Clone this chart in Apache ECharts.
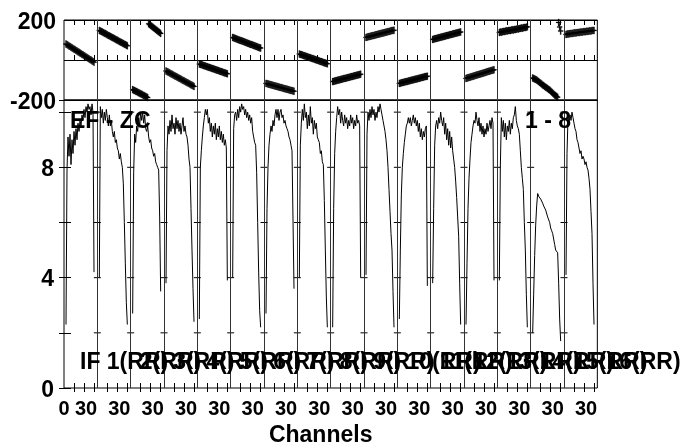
<!DOCTYPE html>
<html><head><meta charset="utf-8">
<script src="https://cdn.jsdelivr.net/npm/echarts@6/dist/echarts.min.js"></script>
<style>html,body{margin:0;padding:0;background:#fff}#c{width:686px;height:442px}</style>
</head><body><div id="c"></div><script>
// ---------------- data ----------------
const ifNumbers = [1,2,3,4,5,6,7,8,9,10,11,12,13,14,15,16];
const channels = [2,3,4,5,6,7,8,9,10,11,12,13,14,15,16,17,18,19,20,21,22,23,24,25,26,27,28,29,30];

const phaseIF1 = [80,77,74,70,68,64,61,58,54,52,48,45,41,39,35,32,28,26,22,19,15,13,9,6,2,0,-4,-7,-11];
const phaseIF2 = [148,145,143,140,137,134,132,129,126,123,121,118,115,112,110,107,104,101,99,96,93,90,88,85,82,79,77,74,71];
const phaseIF3 = [-148,-151,-153,-156,-158,-161,-164,-166,-169,-171,-174,-177,-179,-182,-185,-188,181,177,173,169,165,161,157,153,149,145,141,137,133];
const phaseIF4 = [-55,-58,-60,-63,-66,-69,-71,-74,-77,-80,-82,-85,-88,-91,-93,-96,-99,-102,-104,-107,-110,-113,-115,-118,-121,-124,-126,-129,-132];
const phaseIF5 = [-20,-22,-23,-25,-27,-29,-30,-32,-34,-36,-37,-39,-41,-43,-44,-46,-48,-50,-51,-53,-55,-57,-58,-60,-62,-64,-65,-67,-69];
const phaseIF6 = [113,111,109,107,105,103,101,99,97,96,94,92,90,88,86,84,82,80,78,77,75,73,71,69,67,65,63,61,60];
const phaseIF7 = [-117,-118,-120,-121,-123,-124,-125,-127,-128,-130,-131,-132,-134,-135,-137,-138,-139,-141,-142,-144,-145,-146,-148,-149,-151,-152,-153,-155,-156];
const phaseIF8 = [30,28,27,25,23,21,20,18,16,14,13,11,9,7,6,4,2,0,-1,-3,-5,-7,-8,-10,-12,-14,-15,-17,-19];
const phaseIF9 = [-108,-107,-105,-104,-103,-101,-100,-99,-97,-96,-95,-93,-92,-91,-90,-88,-87,-86,-84,-83,-82,-80,-79,-78,-76,-75,-74,-72,-71];
const phaseIF10 = [113,114,116,117,118,120,121,122,123,125,126,127,129,130,131,133,134,135,136,138,139,140,142,143,144,146,147,148,149];
const phaseIF11 = [-117,-116,-114,-113,-112,-110,-109,-108,-107,-105,-104,-103,-101,-100,-99,-97,-96,-95,-94,-92,-91,-90,-88,-87,-86,-84,-83,-82,-81];
const phaseIF12 = [103,104,106,107,108,110,111,112,114,115,116,118,119,120,122,123,124,126,127,128,130,131,132,134,135,136,138,139,140];
const phaseIF13 = [-92,-90,-89,-87,-86,-84,-83,-81,-80,-78,-76,-75,-73,-72,-70,-69,-67,-66,-64,-63,-61,-59,-58,-56,-55,-53,-52,-50,-49];
const phaseIF14 = [138,140,139,141,143,142,144,146,145,147,148,147,150,151,150,153,152,154,156,155,157,158,160,159,161,163,162,164,166];
const phaseIF15 = [-90,-92,-95,-97,-100,-104,-108,-112,-116,-120,-125,-128,-132,-136,-139,-143,-147,-150,-155,-160,-165,-170,-175,-178,-182,-186,188,165,145];
const phaseIF16 = [128,129,131,130,132,133,132,134,135,136,135,137,138,137,139,140,139,141,142,141,143,144,143,145,146,145,147,148,148];

const ampIF1 = [2.3,7.9,9.1,8.4,9.2,8.1,9.0,8.5,9.3,8.8,9.4,9.0,9.6,9.3,9.7,9.5,9.9,9.7,10.1,9.8,10.2,10.0,10.3,10.1,10.2,9.9,10.3,10.0,4.2];
const ampIF2 = [4.0,10.2,9.8,10.1,9.6,10.0,9.7,10.1,9.8,9.5,9.9,9.5,9.7,9.3,9.1,9.3,8.9,9.0,8.7,8.6,8.3,8.5,8.2,8.0,7.4,6.0,4.5,3.1,2.3];
const ampIF3 = [2.7,7.8,9.2,8.9,9.5,9.3,9.8,9.5,10.0,9.7,10.0,9.6,9.9,9.4,9.3,9.5,9.1,8.9,9.0,8.7,8.6,8.4,8.5,8.2,8.1,8.0,7.9,6.2,3.5];
const ampIF4 = [3.8,8.6,9.5,9.2,9.7,9.3,9.9,9.4,9.6,9.2,9.8,9.4,9.7,9.3,9.6,9.2,9.5,9.8,9.3,9.5,9.2,9.1,8.8,8.3,8.0,6.5,5.0,3.6,2.4];
const ampIF5 = [2.5,8.0,8.6,9.1,9.5,9.8,10.1,9.9,10.1,9.6,9.8,9.3,9.6,9.1,9.5,9.2,9.6,9.0,9.4,9.1,9.5,9.0,9.3,8.9,9.2,8.8,9.0,8.7,3.9];
const ampIF6 = [4.0,9.4,9.9,10.0,9.7,10.1,9.8,10.2,10.0,10.3,10.1,10.2,9.9,10.1,9.8,10.0,9.7,9.9,9.6,9.8,9.3,9.1,8.9,8.8,7.8,6.0,4.2,2.8,2.2];
const ampIF7 = [2.7,6.5,8.0,8.8,9.2,9.5,9.3,9.7,9.5,9.9,10.1,9.8,10.1,9.7,10.0,10.1,9.8,9.9,9.6,9.7,9.5,9.4,9.3,9.1,9.0,8.8,8.6,8.6,3.6];
const ampIF8 = [4.0,8.8,9.6,10.1,9.7,10.3,9.8,10.0,9.4,9.9,9.5,10.2,9.6,9.8,9.2,9.7,9.4,9.6,9.1,9.0,8.9,8.5,8.6,8.2,8.1,6.8,5.0,3.3,2.2];
const ampIF9 = [2.2,6.5,8.5,9.3,9.8,10.2,9.9,10.1,9.6,10.0,9.7,9.5,9.9,9.6,9.8,9.4,9.7,9.5,9.9,9.6,9.8,9.4,9.7,9.5,9.9,9.6,9.7,9.5,4.0];
const ampIF10 = [4.1,9.2,10.0,9.7,10.1,9.8,10.2,9.9,10.1,9.7,10.0,9.8,10.2,10.0,10.3,10.1,9.9,9.7,9.5,9.3,9.0,8.6,8.0,7.2,6.4,5.6,5.0,3.5,2.2];
const ampIF11 = [2.5,5.0,7.0,8.0,8.5,8.9,9.2,9.5,9.6,9.8,9.6,9.8,9.5,9.7,9.9,9.6,9.8,9.5,9.7,9.3,9.6,9.1,9.4,9.0,9.3,9.1,9.4,9.5,3.7];
const ampIF12 = [3.8,6.5,8.8,9.5,9.7,9.4,9.8,9.6,10.0,9.7,9.5,9.8,9.2,9.6,9.0,9.4,8.8,9.3,8.7,9.1,8.6,8.3,8.0,7.5,6.9,6.2,5.5,3.8,2.3];
const ampIF13 = [2.3,4.5,6.5,7.6,8.3,8.9,9.2,9.5,9.7,9.6,10.0,9.7,9.5,9.8,9.3,9.6,9.2,9.5,9.1,9.4,9.2,9.6,9.3,9.5,9.7,9.4,9.8,9.6,3.9];
const ampIF14 = [3.9,8.0,9.8,9.3,9.7,9.1,9.6,9.0,9.5,9.3,9.7,9.2,9.6,9.4,9.8,9.9,10.2,9.7,9.5,9.4,9.2,8.6,8.0,7.6,7.2,6.0,5.0,3.4,2.2];
const ampIF15 = [2.0,3.4,4.8,5.9,6.6,7.05,6.95,7.0,6.85,6.9,6.7,6.6,6.55,6.45,6.4,6.2,6.25,6.0,5.8,5.7,5.6,5.55,5.2,5.0,4.95,4.9,3.8,2.5,1.7];
const ampIF16 = [4.1,8.5,9.8,9.6,9.9,9.7,10.0,9.8,9.6,9.4,9.3,9.0,8.9,8.7,8.5,8.6,8.3,8.4,8.3,8.1,8.2,8.0,7.9,7.6,7.2,6.4,5.6,3.8,2.3];

const phaseByIF = [phaseIF1,phaseIF2,phaseIF3,phaseIF4,phaseIF5,phaseIF6,phaseIF7,phaseIF8,phaseIF9,phaseIF10,phaseIF11,phaseIF12,phaseIF13,phaseIF14,phaseIF15,phaseIF16];
const ampByIF = [ampIF1,ampIF2,ampIF3,ampIF4,ampIF5,ampIF6,ampIF7,ampIF8,ampIF9,ampIF10,ampIF11,ampIF12,ampIF13,ampIF14,ampIF15,ampIF16];

const phaseTickLabels = ['-200','','200'];
const ampTickValues = [2,4,6,8,10];
const channelTicks = [10,20,30];
const xTickLabels = ['0','30','30','30','30','30','30','30','30','30','30','30','30','30','30','30','30'];
const xTickLabelChannels = [0,30];
const sourceLabel = 'EF - ZC';
const rangeLabel = '1 - 8';
const ifLabel = n => (n === 1 ? 'IF ' : '') + n + '(RR)';

// ---------------- layout ----------------
const FONT = "'Liberation Sans', Arial, Helvetica, sans-serif";
const NARROW = "'Liberation Sans Narrow', 'Arial Narrow', 'Liberation Sans', sans-serif";
const PANEL = 100/3;           // axis units per IF panel
const XMAX = ifNumbers.length * PANEL;
const AMP_MAX = 10.44;
const LABEL_LEVEL = 0.93;      // amplitude level of the IF label row

const xOf = (k, ch) => k * PANEL + ch;

const phasePts = [];
phaseByIF.forEach((arr, k) => arr.forEach((p, i) => phasePts.push([xOf(k, channels[i]), p])));

const ampSeries = ampByIF.map((arr, k) => ({
  type: 'line', xAxisIndex: 2, yAxisIndex: 1, showSymbol: false, symbol: 'none',
  data: arr.map((a, i) => [xOf(k, channels[i]), a]),
  lineStyle: { color: '#000', width: 1 }, silent: true, animation: false, z: 3
}));

const boundaryLines = [];
for (let k = 1; k < ifNumbers.length; k++) boundaryLines.push({ xAxis: k * PANEL });

const crossPts = [];
for (let k = 1; k < ifNumbers.length; k++) ampTickValues.forEach(v => crossPts.push([k * PANEL, v]));

const tickPos = [];
ifNumbers.forEach((n, k) => channelTicks.forEach(t => tickPos.push(xOf(k, t))));

const xLabelPos = [xTickLabelChannels[0]];
ifNumbers.forEach((n, k) => xLabelPos.push(xOf(k, xTickLabelChannels[1])));

const ifLabelPts = ifNumbers.map((n, k) => ({
  value: [xOf(k, 0), LABEL_LEVEL], name: ifLabel(n),
  label: { offset: [k === 0 ? 16 : 42.5, 0] }
}));

const plusPath = 'path://M2,0h1v3h2v1h-2v3h-1v-3h-2v-1h2z';

const tickCommon = { show: true, inside: true, length: 5, lineStyle: { color: '#000', width: 1 } };
const markLineStyle = { silent: true, symbol: 'none', animation: false, label: { show: false },
  lineStyle: { color: '#333', width: 1, type: 'solid' }, data: boundaryLines };
const yRich = { y: { color: '#000', fontFamily: FONT, fontSize: 23, fontWeight: 'bold', padding: [5, 0, 0, 0] } };
const yLabelStyle = { color: '#000', fontFamily: FONT, fontSize: 23, fontWeight: 'bold', rich: yRich };
const wrapY = s => (s === '' ? '' : '{y|' + s + '}');

const option = {
  backgroundColor: '#fff',
  animation: false,
  title: [
    { text: sourceLabel, left: 70, top: 110, textStyle: { fontFamily: FONT, fontSize: 23, fontWeight: 'bold', color: '#000' }, padding: 0 },
    { text: rangeLabel, left: 525, top: 110, textStyle: { fontFamily: FONT, fontSize: 23, fontWeight: 'bold', color: '#000' }, padding: 0 }
  ],
  grid: [
    { left: 64, top: 20, width: XMAX, height: 80, show: true, borderColor: '#000', borderWidth: 1, backgroundColor: 'transparent', outerBoundsMode: 'none', containLabel: false },
    { left: 64, top: 100, width: XMAX, height: 288, show: true, borderColor: '#000', borderWidth: 1, backgroundColor: 'transparent', outerBoundsMode: 'none', containLabel: false }
  ],
  xAxis: [
    { gridIndex: 0, type: 'value', position: 'bottom', min: 0, max: XMAX,
      axisLine: { show: false }, axisLabel: { show: false },
      axisTick: Object.assign({}, tickCommon, { customValues: tickPos }),
      splitLine: { show: false } },
    { gridIndex: 0, type: 'value', position: 'top', min: 0, max: XMAX,
      axisLine: { show: false }, axisLabel: { show: false },
      axisTick: Object.assign({}, tickCommon, { customValues: tickPos }),
      splitLine: { show: false } },
    { gridIndex: 1, type: 'value', position: 'bottom', min: 0, max: XMAX,
      axisLine: { show: false },
      axisTick: Object.assign({}, tickCommon, { customValues: tickPos }),
      axisLabel: { show: true, customValues: xLabelPos, margin: 11, color: '#000',
        fontFamily: NARROW, fontSize: 20, fontWeight: 'bold',
        formatter: v => { const i = xLabelPos.findIndex(p => Math.abs(p - v) < 1e-6); const t = xTickLabels[i < 0 ? 1 : i]; return i === 0 ? '{z|' + t + '}' : '{t|' + t + '}'; },
        rich: { z: { fontFamily: NARROW, fontSize: 20, fontWeight: 'bold', color: '#000' },
                t: { fontFamily: NARROW, fontSize: 20, fontWeight: 'bold', color: '#000', padding: [0, 16, 0, 0] } } },
      splitLine: { show: false },
      name: 'Channels', nameLocation: 'middle', nameGap: 30,
      nameTextStyle: { fontFamily: FONT, fontSize: 23, fontWeight: 'bold', color: '#000', padding: [0, 20, 0, 0] } },
    { gridIndex: 1, type: 'value', position: 'top', min: 0, max: XMAX,
      axisLine: { show: false }, axisLabel: { show: false },
      axisTick: Object.assign({}, tickCommon, { customValues: tickPos, length: 4 }),
      splitLine: { show: false } }
  ],
  yAxis: [
    { gridIndex: 0, type: 'value', min: -200, max: 200, interval: 200,
      axisLine: { show: false }, axisTick: { show: false },
      axisLabel: Object.assign({ margin: 8, formatter: v => wrapY(phaseTickLabels[Math.round((v + 200) / 200)]) }, yLabelStyle),
      splitLine: { show: true, lineStyle: { color: '#000', width: 1 } } },
    { gridIndex: 1, type: 'value', min: 0, max: AMP_MAX, interval: 2,
      axisLine: { show: false },
      axisTick: { show: true, inside: true, length: 7, lineStyle: { color: '#000' } },
      axisLabel: Object.assign({ margin: 10, showMaxLabel: false,
        formatter: v => wrapY(Math.abs(v % 4) < 1e-9 ? String(v) : '') }, yLabelStyle),
      splitLine: { show: false } },
    { gridIndex: 1, type: 'value', position: 'right', min: 0, max: AMP_MAX, interval: 2,
      axisLine: { show: false },
      axisTick: { show: true, inside: true, length: 5, lineStyle: { color: '#000' } },
      axisLabel: { show: false }, splitLine: { show: false } }
  ],
  series: [
    { type: 'scatter', xAxisIndex: 0, yAxisIndex: 0, data: phasePts, symbol: plusPath, symbolSize: [5, 7],
      itemStyle: { color: '#000', opacity: 1, borderColor: '#000', borderWidth: 0.3 }, silent: true, animation: false, z: 3,
      markLine: markLineStyle },
    ...ampSeries,
    { type: 'scatter', xAxisIndex: 2, yAxisIndex: 1, data: crossPts, symbol: 'rect', symbolSize: [7, 1],
      itemStyle: { color: '#000', opacity: 1 }, silent: true, animation: false, z: 2,
      markLine: markLineStyle },
    { type: 'scatter', xAxisIndex: 2, yAxisIndex: 1, data: ifLabelPts, symbolSize: 0, silent: true, animation: false, z: 5,
      itemStyle: { opacity: 1 },
      label: { show: true, position: 'right', distance: 0, align: 'left', verticalAlign: 'middle', formatter: p => p.name,
        fontFamily: FONT, fontSize: 23, fontWeight: 'bold', color: '#000', textBorderWidth: 0 } }
  ]
};

const chart = echarts.init(document.getElementById('c'), null, { renderer: 'canvas' });
chart.setOption(option);
</script></body></html>
